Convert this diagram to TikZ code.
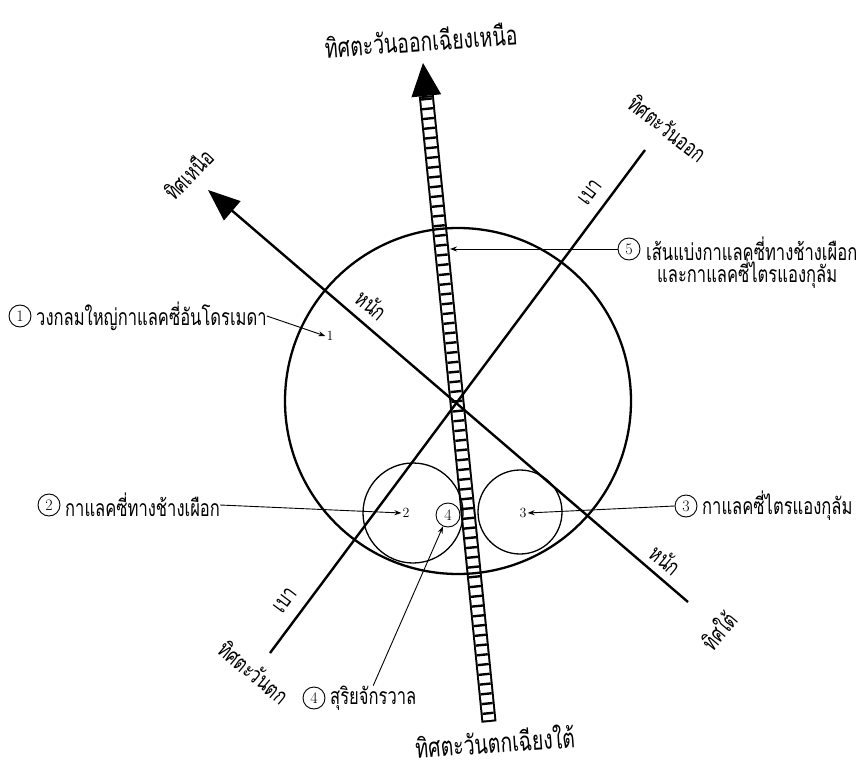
\documentclass[tikz,border=0pt]{standalone}
\usepackage{fontspec}
\usetikzlibrary{arrows.meta}
\newfontfamily\thai[Script=Thai,FakeStretch=0.72]{Loma}
\begin{document}
\begin{tikzpicture}[x=1pt,y=-1pt,
  lbl/.style={font=\thai\fontsize{23}{26}\selectfont, inner sep=0pt},
  ttl/.style={font=\thai\fontsize{27}{30}\selectfont, inner sep=0pt},
  numc/.style={circle,draw,line width=0.9pt,minimum size=22pt,inner sep=0pt,font=\fontsize{16}{16}\selectfont},
  digit/.style={inner sep=1pt,font=\fontsize{14}{14}\selectfont},
  axisline/.style={line width=2.4pt},
  ptr/.style={line width=0.9pt,-{Stealth[length=7pt,width=5pt]}},
  galaxy/.style={circle,draw,line width=1.3pt,inner sep=0pt},
]
\useasboundingbox (0,0) rectangle (862,767);

% hatched bar (NE - SW)
\coordinate (bartip) at (423,63);
\coordinate (barc1) at (441.2,94.3);
\coordinate (barc2) at (411.4,97.3);
\coordinate (bartop) at (426.3,95.8);
\coordinate (barbot) at (489,722);
\draw[line width=15pt] (bartop) -- (barbot);
\draw[line width=11pt,white,shorten <=2pt,shorten >=2pt] (bartop) -- (barbot);
\draw[line width=11pt,dash pattern=on 2.4pt off 7.4pt,shorten <=2pt,shorten >=2pt] (bartop) -- (barbot);
\fill (bartip) -- (barc1) -- (barc2) -- cycle;

% big circle and galaxies
\node[circle,draw,line width=2.3pt,minimum size=346pt,inner sep=0pt] (andro) at (458,401) {};
\node[galaxy,minimum size=100pt] (milky) at (413,513) {};
\node[galaxy,minimum size=84pt] (tri) at (520,512) {};
\node[numc,minimum size=24pt] (sun) at (448,515) {4};

% axes
\coordinate (se) at (688,602);
\coordinate (nw) at (208,190);
\coordinate (ne) at (645,150);
\coordinate (sw) at (270,653);
\draw[axisline,-{Triangle[length=32pt,width=25pt]}] (se) -- (nw);
\draw[axisline] (sw) -- (ne);

% direction labels
\node[ttl,rotate=4] (tne) at (421,40) {ทิศตะวันออกเฉียงเหนือ};
\node[ttl,rotate=4] (tsw) at (495,741) {ทิศตะวันตกเฉียงใต้};
\node[lbl,rotate=46] (tn) at (188,174) {ทิศเหนือ};
\node[lbl,rotate=-38] (te) at (668,128) {ทิศตะวันออก};
\node[lbl,rotate=-40] (tw) at (254,672) {ทิศตะวันตก};
\node[lbl,rotate=50] (ts) at (718,630) {ทิศใต้};
\node[lbl,rotate=-40] (h1) at (372,305) {หนัก};
\node[lbl,rotate=-40] (h2) at (666,560) {หนัก};
\node[lbl,rotate=53] (b1) at (590,192) {เบา};
\node[lbl,rotate=53] (b2) at (285,600) {เบา};

% numbered labels
\node[digit] (n1) at (330,336) {1};
\node[digit] (n2) at (406,513) {2};
\node[digit] (n3) at (523,513) {3};

\node[numc] (c1) at (20,316) {1};
\node[lbl,anchor=west] (t1) at (36,316) {วงกลมใหญ่กาแลคซี่อันโดรเมดา};
\draw[ptr] (t1.east) -- (n1.west);

\node[numc] (c2) at (49,505) {2};
\node[lbl,anchor=west] (t2) at (65,505) {กาแลคซี่ทางช้างเผือก};
\draw[ptr] (t2.east) -- (n2.west);

\node[numc] (c3) at (686,506) {3};
\node[lbl,anchor=west] (t3) at (702,506) {กาแลคซี่ไตรแองกุลัม};
\draw[ptr] (c3.west) -- (n3.east);

\node[numc] (c4) at (314,698) {4};
\node[lbl,anchor=west] (t4) at (330,698) {สุริยจักรวาล};
\draw[ptr] (t4.north) -- (sun);

\node[numc] (c5) at (629,249) {5};
\node[lbl,anchor=west] (t5a) at (646,249) {เส้นแบ่งกาแลคซี่ทางช้างเผือก};
\node[lbl,anchor=west] (t5b) at (657,274) {และกาแลคซี่ไตรแองกุลัม};
\coordinate (barpt) at (450,249);
\draw[ptr] (c5.west) -- (barpt);
\end{tikzpicture}
\end{document}
